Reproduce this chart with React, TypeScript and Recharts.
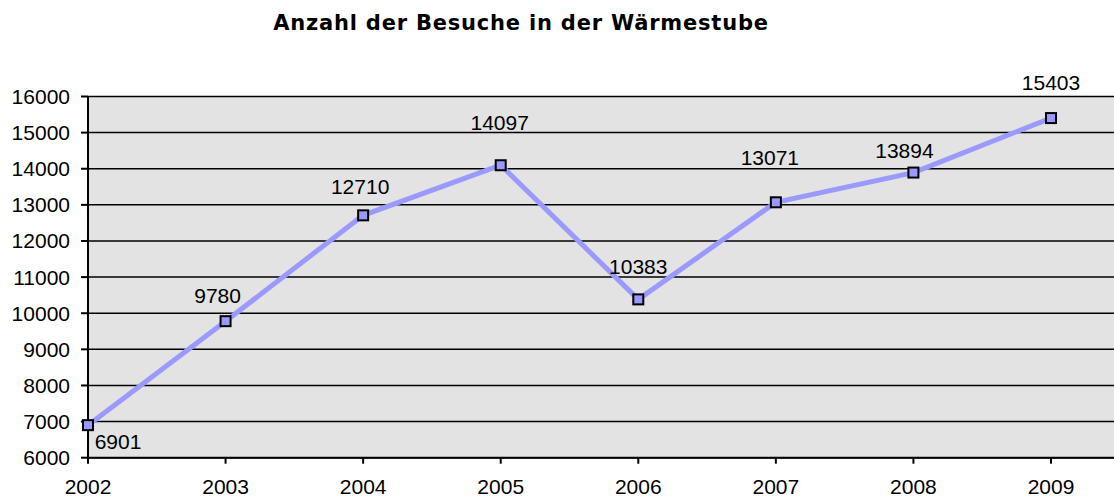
import React from "react";
import { LineChart, Line, XAxis, YAxis, CartesianGrid, LabelList } from "recharts";

const years = [2002, 2003, 2004, 2005, 2006, 2007, 2008, 2009];
const visits = [6901, 9780, 12710, 14097, 10383, 13071, 13894, 15403];
const yTicks = [6000, 7000, 8000, 9000, 10000, 11000, 12000, 13000, 14000, 15000, 16000];
const title = "Anzahl der Besuche in der Wärmestube";

// label placement (style only): dx, dy from the point
const labelOffsets: [number, number][] = [
  [30, 16],
  [-8, -26],
  [-3, -29],
  [-1, -43],
  [0, -33],
  [-6, -45],
  [-9, -22],
  [0, -36],
];

const data = years.map((y, i) => ({ year: y, value: visits[i] }));

const FONT = "'Liberation Sans', Arial, sans-serif";

const SquareDot = (props: any) => {
  const { cx, cy, index } = props;
  if (cx == null || cy == null) return null;
  return (
    <rect
      key={`dot-${index}`}
      x={cx - 5}
      y={cy - 5}
      width={10}
      height={10}
      fill="#9999ff"
      stroke="#000"
      strokeWidth={2}
    />
  );
};

const ValueLabel = (props: any) => {
  const { x, y, value, index } = props;
  const [dx, dy] = labelOffsets[index] || [0, -20];
  return (
    <text
      x={x + dx}
      y={y + dy}
      textAnchor="middle"
      dominantBaseline="central"
      fontFamily={FONT}
      fontSize={21}
      fill="#000"
    >
      {value}
    </text>
  );
};

export default function App() {
  return (
    <div style={{ position: "absolute", left: 0, top: 0, width: 1114, height: 501, background: "#fff" }}>
      <div
        style={{
          position: "absolute",
          left: 0,
          top: 11,
          width: 1042,
          textAlign: "center",
          fontFamily: "'DejaVu Sans', sans-serif",
          fontWeight: "bold",
          fontSize: 21,
          letterSpacing: 0.8,
          color: "#000",
        }}
      >
        {title}
      </div>
      <LineChart
        width={1114}
        height={501}
        data={data}
        margin={{ top: 96.5, right: 0, bottom: 0, left: 0 }}
      >
        <CartesianGrid
          vertical={false}
          horizontal={true}
          stroke="#000"
          strokeWidth={1.5}
          fill="#e3e3e3"
          fillOpacity={1}
        />
        <XAxis
          dataKey="year"
          type="number"
          domain={[2002, 2009.458]}
          ticks={years}
          height={43.3}
          tickSize={6}
          tickMargin={15}
          axisLine={{ stroke: "#000", strokeWidth: 2 }}
          tickLine={{ stroke: "#000", strokeWidth: 2 }}
          tick={{ fill: "#000", fontSize: 21, fontFamily: FONT }}
          interval={0}
        />
        <YAxis
          type="number"
          domain={[6000, 16000]}
          ticks={yTicks}
          width={88}
          tickSize={7}
          tickMargin={11}
          axisLine={{ stroke: "#000", strokeWidth: 2 }}
          tickLine={{ stroke: "#000", strokeWidth: 2 }}
          tick={{ fill: "#000", fontSize: 21, fontFamily: FONT }}
          interval={0}
        />
        <Line
          type="linear"
          dataKey="value"
          stroke="#9999ff"
          strokeWidth={5}
          dot={<SquareDot />}
          activeDot={false}
          isAnimationActive={false}
        >
          <LabelList dataKey="value" content={<ValueLabel />} />
        </Line>
      </LineChart>
    </div>
  );
}
